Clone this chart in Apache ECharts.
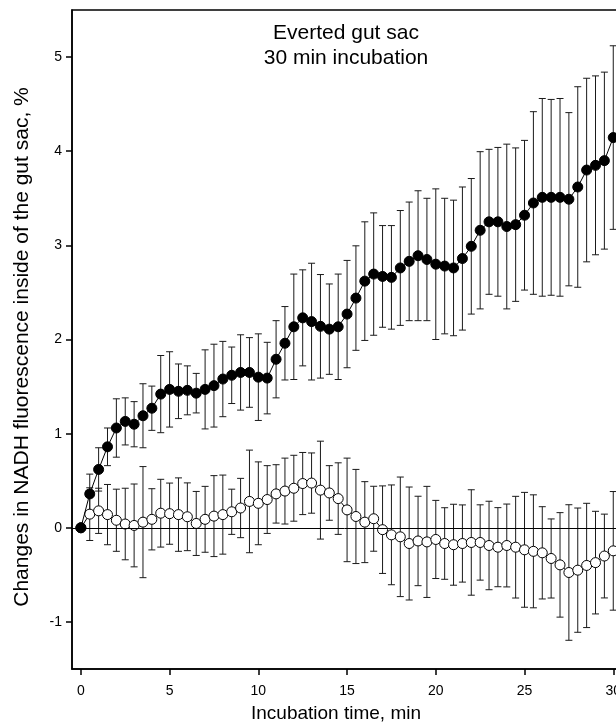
<!DOCTYPE html>
<html>
<head>
<meta charset="utf-8">
<script src="https://cdn.jsdelivr.net/npm/echarts@6/dist/echarts.min.js"></script>
<style>
html,body{margin:0;padding:0;background:#fff;}
#chart{width:616px;height:724px;}
</style>
</head>
<body>
<div id="chart"></div>
<script>
// Incubation time, min
const times = [0,0.5,1,1.5,2,2.5,3,3.5,4,4.5,5,5.5,6,6.5,7,7.5,8,8.5,9,9.5,10,10.5,11,11.5,12,12.5,13,13.5,14,14.5,15,15.5,16,16.5,17,17.5,18,18.5,19,19.5,20,20.5,21,21.5,22,22.5,23,23.5,24,24.5,25,25.5,26,26.5,27,27.5,28,28.5,29,29.5,30];

// Filled circles series: mean and error
const filledMean = [0,0.36,0.62,0.86,1.06,1.13,1.10,1.19,1.27,1.42,1.47,1.45,1.46,1.43,1.47,1.51,1.58,1.62,1.65,1.65,1.60,1.59,1.79,1.96,2.135,2.23,2.19,2.14,2.11,2.135,2.27,2.44,2.62,2.695,2.67,2.66,2.76,2.83,2.89,2.85,2.80,2.78,2.76,2.86,2.99,3.16,3.25,3.25,3.20,3.22,3.32,3.45,3.51,3.51,3.51,3.49,3.62,3.80,3.85,3.90,4.145];
const filledErr = [0,0.21,0.23,0.20,0.31,0.25,0.24,0.34,0.235,0.41,0.40,0.29,0.26,0.21,0.42,0.44,0.40,0.30,0.40,0.37,0.46,0.38,0.41,0.39,0.56,0.51,0.62,0.55,0.48,0.56,0.57,0.555,0.63,0.65,0.54,0.55,0.61,0.63,0.69,0.65,0.80,0.72,0.72,0.76,0.72,0.835,0.77,0.79,0.875,0.815,0.795,0.97,1.05,1.04,1.05,0.92,1.065,0.975,0.95,0.94,0.975];

// Open circles series: mean and error
const openMean = [0,0.145,0.18,0.14,0.08,0.04,0.025,0.06,0.09,0.155,0.15,0.14,0.117,0.046,0.09,0.124,0.14,0.17,0.21,0.28,0.26,0.30,0.36,0.39,0.42,0.47,0.475,0.40,0.37,0.31,0.19,0.12,0.06,0.096,-0.02,-0.075,-0.096,-0.167,-0.14,-0.15,-0.124,-0.167,-0.18,-0.167,-0.156,-0.156,-0.188,-0.206,-0.188,-0.206,-0.234,-0.25,-0.266,-0.326,-0.394,-0.475,-0.45,-0.40,-0.37,-0.30,-0.245];
const openErr = [0,0.28,0.24,0.32,0.33,0.38,0.44,0.59,0.325,0.36,0.325,0.39,0.36,0.34,0.35,0.43,0.42,0.24,0.315,0.545,0.44,0.36,0.31,0.35,0.35,0.33,0.32,0.52,0.29,0.38,0.55,0.50,0.43,0.345,0.465,0.53,0.635,0.60,0.475,0.59,0.415,0.38,0.43,0.41,0.56,0.40,0.47,0.42,0.44,0.54,0.61,0.60,0.49,0.42,0.555,0.72,0.66,0.66,0.545,0.445,0.63];

const xTicks = [0,5,10,15,20,25,30];
const yTicks = [-1,0,1,2,3,4,5];

const titleLines = ['Everted gut sac','30 min incubation'];
const xName = 'Incubation time, min';
const yName = 'Changes in NADH fluorescence inside of the gut sac, %';

const FONT = 'Liberation Sans, Arial, sans-serif';

function pts(mean){ return times.map((t,i)=>[t,mean[i]]); }
function bars(mean,err){ return times.map((t,i)=>[t,mean[i]-err[i],mean[i]+err[i]]).filter((d,i)=>err[i]>0); }

function errRender(params, api){
  const x = api.value(0);
  const lo = api.coord([x, api.value(1)]);
  const hi = api.coord([x, api.value(2)]);
  const w = 3.5;
  const st = {stroke:'#1a1a1a', lineWidth:1};
  return {type:'group', children:[
    {type:'line', shape:{x1:lo[0],y1:lo[1],x2:hi[0],y2:hi[1]}, style:st},
    {type:'line', shape:{x1:lo[0]-w,y1:lo[1],x2:lo[0]+w,y2:lo[1]}, style:st},
    {type:'line', shape:{x1:hi[0]-w,y1:hi[1],x2:hi[0]+w,y2:hi[1]}, style:st}
  ]};
}

const chart = echarts.init(document.getElementById('chart'), null, {renderer:'canvas'});
chart.setOption({
  animation:false,
  backgroundColor:'#fff',
  grid:{left:72, top:10, width:559, height:659, show:true, borderColor:'#000', borderWidth:1.5, outerBoundsMode:'none', containLabel:false},
  xAxis:{
    type:'value', min:-0.5, max:31,
    axisLine:{show:true, onZero:false, lineStyle:{color:'#000', width:1.5}},
    axisTick:{show:true, length:6, customValues:xTicks, lineStyle:{color:'#000', width:1.5}},
    axisLabel:{show:true, customValues:xTicks, margin:15, color:'#000', fontSize:14, fontFamily:FONT},
    splitLine:{show:false}
  },
  yAxis:{
    type:'value', min:-1.5, max:5.5,
    axisLine:{show:true, onZero:false, lineStyle:{color:'#000', width:1.5}},
    axisTick:{show:true, length:6, customValues:yTicks, lineStyle:{color:'#000', width:1.5}},
    axisLabel:{show:true, customValues:yTicks, margin:10, color:'#000', fontSize:14, fontFamily:FONT},
    splitLine:{show:false}
  },
  graphic:[
    {type:'text', style:{text:titleLines.join('\n'), x:346, y:21, align:'center', verticalAlign:'top', font:'21px '+FONT, lineHeight:25, fill:'#000'}, z:10},
    {type:'text', style:{text:xName, x:336, y:714, align:'center', verticalAlign:'middle', font:'19px '+FONT, fill:'#000'}, z:10},
    {type:'text', x:22, y:347, rotation:Math.PI/2, style:{text:yName, x:0, y:0, align:'center', verticalAlign:'middle', font:'21px '+FONT, fill:'#000'}, z:10}
  ],
  series:[
    {type:'custom', name:'openErr', renderItem:errRender, data:bars(openMean,openErr), encode:{x:0,y:[1,2]}, z:1, silent:true},
    {type:'custom', name:'filledErr', renderItem:errRender, data:bars(filledMean,filledErr), encode:{x:0,y:[1,2]}, z:1, silent:true},
    {type:'line', name:'open', data:pts(openMean), symbol:'circle', symbolSize:10, showAllSymbol:true,
      lineStyle:{color:'#000', width:1}, itemStyle:{color:'#fff', borderColor:'#000', borderWidth:1}, z:3,
      markLine:{silent:true, symbol:'none', label:{show:false}, lineStyle:{color:'#000', width:1, type:'solid'}, data:[{yAxis:0}], animation:false}},
    {type:'line', name:'filled', data:pts(filledMean), symbol:'circle', symbolSize:10, showAllSymbol:true,
      lineStyle:{color:'#000', width:1}, itemStyle:{color:'#000', borderColor:'#000', borderWidth:1}, z:4}
  ]
});
</script>
</body>
</html>
